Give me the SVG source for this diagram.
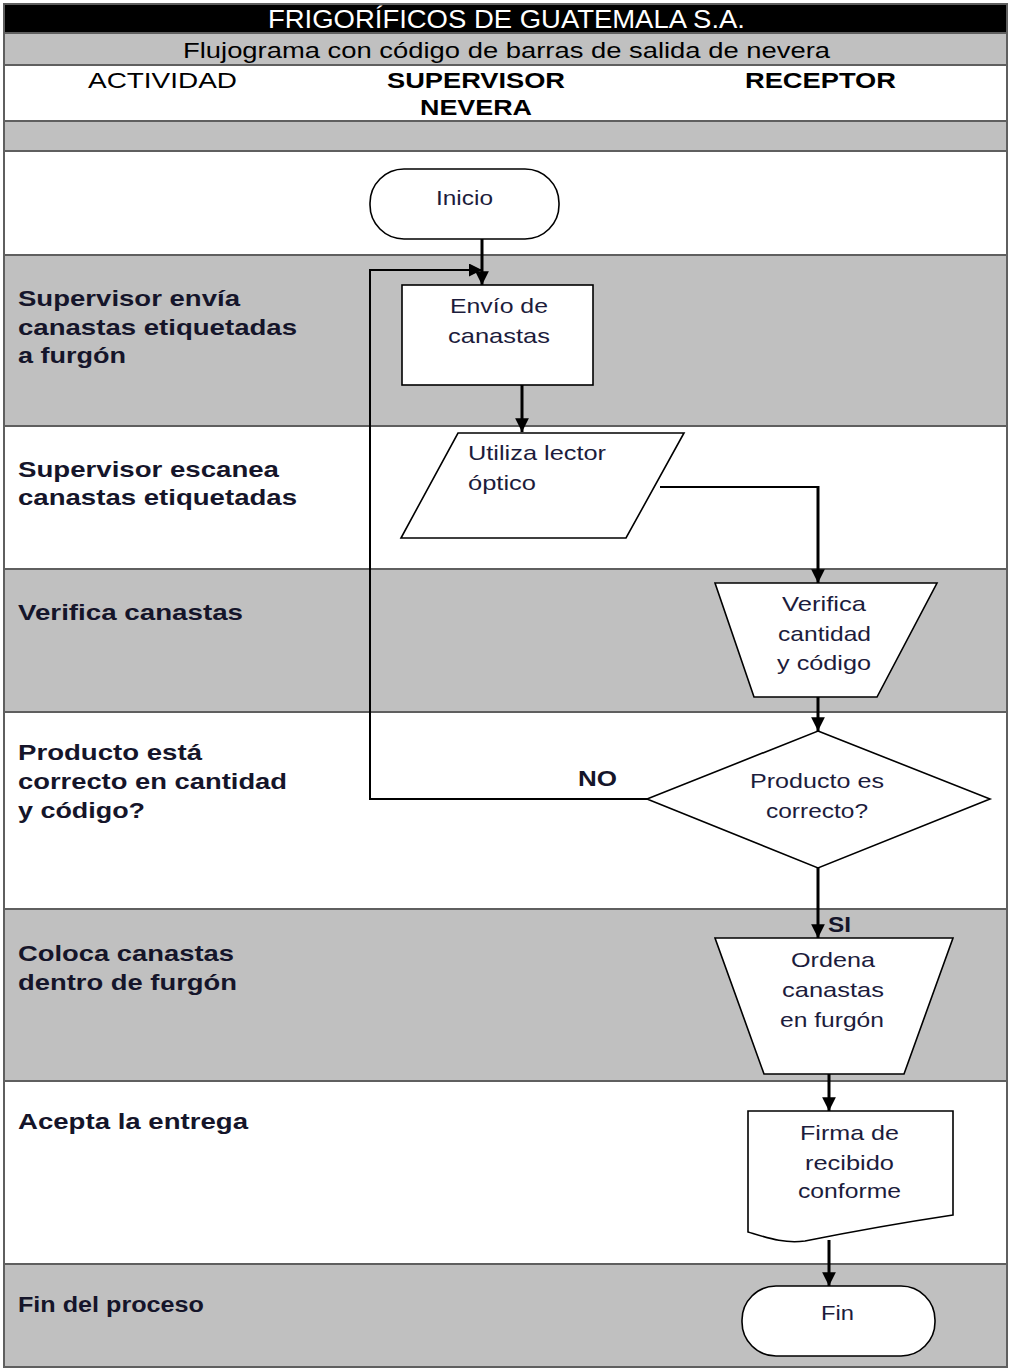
<svg xmlns="http://www.w3.org/2000/svg" width="1010" height="1370" viewBox="0 0 1010 1370">
  <style>
    .band-g { fill: #c0c0c0; }
    .band-w { fill: #ffffff; }
    .rule { stroke: #5f5f5f; stroke-width: 2; fill: none; }
    .shape { fill: #ffffff; stroke: #000000; stroke-width: 1.6; }
    .flow { stroke: #000000; stroke-width: 3; fill: none; }
    .thin { stroke: #000000; stroke-width: 2; fill: none; }
    .hdr { font-family: "Liberation Sans", Arial, sans-serif; font-size: 22px; fill: #000000; }
    .act { font-family: "Liberation Sans", Arial, sans-serif; font-size: 22px; font-weight: bold; fill: #15152a; }
    .lbl { font-family: "Liberation Sans", Arial, sans-serif; font-size: 21px; fill: #1c1c3c; }
    .yn { font-family: "Liberation Sans", Arial, sans-serif; font-size: 22px; font-weight: bold; fill: #15152a; }
  </style>
  <defs>
    <marker id="arrow" viewBox="0 0 10 10" refX="10" refY="5" markerWidth="4.6" markerHeight="4.6" markerUnits="strokeWidth" orient="auto">
      <path d="M0,0 L10,5 L0,10 Z" fill="#000000"/>
    </marker>
    <marker id="arrow-thin" viewBox="0 0 10 10" refX="10" refY="5" markerWidth="6.5" markerHeight="6.5" markerUnits="strokeWidth" orient="auto">
      <path d="M0,0 L10,5 L0,10 Z" fill="#000000"/>
    </marker>
  </defs>

  <!-- table bands -->
  <g id="table">
    <rect x="3" y="3" width="1005" height="30" fill="#000000"/>
    <rect class="band-g" x="3" y="33" width="1005" height="32"/>
    <rect class="band-w" x="3" y="65" width="1005" height="56"/>
    <rect class="band-g" x="3" y="121" width="1005" height="30"/>
    <rect class="band-w" x="3" y="151" width="1005" height="104"/>
    <rect class="band-g" x="3" y="255" width="1005" height="171"/>
    <rect class="band-w" x="3" y="426" width="1005" height="143"/>
    <rect class="band-g" x="3" y="569" width="1005" height="143"/>
    <rect class="band-w" x="3" y="712" width="1005" height="197"/>
    <rect class="band-g" x="3" y="909" width="1005" height="172"/>
    <rect class="band-w" x="3" y="1081" width="1005" height="183"/>
    <rect class="band-g" x="3" y="1264" width="1005" height="104"/>
    <path class="rule" d="M3,33 H1008 M3,65 H1008 M3,121 H1008 M3,151 H1008 M3,255 H1008 M3,426 H1008 M3,569 H1008 M3,712 H1008 M3,909 H1008 M3,1081 H1008 M3,1264 H1008"/>
    <rect x="4" y="4" width="1003" height="1363" fill="none" stroke="#5f5f5f" stroke-width="2"/>
  </g>

  <!-- headings -->
  <g id="headings">
    <text x="268" y="28" font-family="'Liberation Sans Narrow', 'Liberation Sans', Arial, sans-serif" font-size="25" fill="#ffffff" textLength="477" lengthAdjust="spacingAndGlyphs">FRIGORÍFICOS DE GUATEMALA S.A.</text>
    <text class="hdr" x="183" y="58" textLength="647" lengthAdjust="spacingAndGlyphs">Flujograma con código de barras de salida de nevera</text>
    <text class="hdr" x="88" y="88" textLength="149" lengthAdjust="spacingAndGlyphs">ACTIVIDAD</text>
    <text class="hdr" x="387" y="88" font-weight="bold" textLength="178" lengthAdjust="spacingAndGlyphs">SUPERVISOR</text>
    <text class="hdr" x="420" y="115" font-weight="bold" textLength="112" lengthAdjust="spacingAndGlyphs">NEVERA</text>
    <text class="hdr" x="745" y="88" font-weight="bold" textLength="151" lengthAdjust="spacingAndGlyphs">RECEPTOR</text>
  </g>

  <!-- activity descriptions -->
  <g id="activities">
    <text class="act" x="18" y="306" textLength="222" lengthAdjust="spacingAndGlyphs">Supervisor envía</text>
    <text class="act" x="18" y="335" textLength="279" lengthAdjust="spacingAndGlyphs">canastas etiquetadas</text>
    <text class="act" x="18" y="363" textLength="108" lengthAdjust="spacingAndGlyphs">a furgón</text>
    <text class="act" x="18" y="477" textLength="261" lengthAdjust="spacingAndGlyphs">Supervisor escanea</text>
    <text class="act" x="18" y="505" textLength="279" lengthAdjust="spacingAndGlyphs">canastas etiquetadas</text>
    <text class="act" x="18" y="620" textLength="225" lengthAdjust="spacingAndGlyphs">Verifica canastas</text>
    <text class="act" x="18" y="760" textLength="184" lengthAdjust="spacingAndGlyphs">Producto está</text>
    <text class="act" x="18" y="789" textLength="269" lengthAdjust="spacingAndGlyphs">correcto en cantidad</text>
    <text class="act" x="18" y="818" textLength="127" lengthAdjust="spacingAndGlyphs">y código?</text>
    <text class="act" x="18" y="961" textLength="216" lengthAdjust="spacingAndGlyphs">Coloca canastas</text>
    <text class="act" x="18" y="990" textLength="219" lengthAdjust="spacingAndGlyphs">dentro de furgón</text>
    <text class="act" x="18" y="1129" textLength="230" lengthAdjust="spacingAndGlyphs">Acepta la entrega</text>
    <text class="act" x="18" y="1312" font-size="20" textLength="186" lengthAdjust="spacingAndGlyphs">Fin del proceso</text>
  </g>

  <!-- connectors -->
  <g id="connectors">
    <path class="flow" d="M482,239 V285" marker-end="url(#arrow)"/>
    <path class="thin" d="M647,799 H370 V270 H482" marker-end="url(#arrow-thin)"/>
    <path class="flow" d="M522,385 V432" marker-end="url(#arrow)"/>
    <path class="thin" d="M660,487 H818" />
    <path class="flow" d="M818,486 V583" marker-end="url(#arrow)"/>
    <path class="flow" d="M818,697 V731" marker-end="url(#arrow)"/>
    <path class="flow" d="M818,868 V938" marker-end="url(#arrow)"/>
    <path class="flow" d="M829,1074 V1111" marker-end="url(#arrow)"/>
    <path class="flow" d="M829,1240 V1286" marker-end="url(#arrow)"/>
    <text class="yn" x="578" y="786" textLength="39" lengthAdjust="spacingAndGlyphs">NO</text>
    <text class="yn" x="828" y="932" textLength="23" lengthAdjust="spacingAndGlyphs">SI</text>
  </g>

  <!-- nodes -->
  <g id="inicio">
    <rect class="shape" x="370" y="169" width="189" height="70" rx="34" ry="34"/>
    <text class="lbl" x="436" y="205" textLength="57" lengthAdjust="spacingAndGlyphs">Inicio</text>
  </g>
  <g id="envio">
    <rect class="shape" x="402" y="285" width="191" height="100"/>
    <text class="lbl" x="450" y="313" textLength="98" lengthAdjust="spacingAndGlyphs">Envío de</text>
    <text class="lbl" x="448" y="343" textLength="102" lengthAdjust="spacingAndGlyphs">canastas</text>
  </g>
  <g id="lector">
    <polygon class="shape" points="458,433 684,433 626,538 401,538"/>
    <text class="lbl" x="468" y="460" textLength="138" lengthAdjust="spacingAndGlyphs">Utiliza lector</text>
    <text class="lbl" x="468" y="490" textLength="68" lengthAdjust="spacingAndGlyphs">óptico</text>
  </g>
  <g id="verifica">
    <polygon class="shape" points="715,583 937,583 877,697 754,697"/>
    <text class="lbl" x="782" y="611" textLength="84" lengthAdjust="spacingAndGlyphs">Verifica</text>
    <text class="lbl" x="778" y="641" textLength="93" lengthAdjust="spacingAndGlyphs">cantidad</text>
    <text class="lbl" x="777" y="670" textLength="94" lengthAdjust="spacingAndGlyphs">y código</text>
  </g>
  <g id="decision">
    <polygon class="shape" points="818,731 990,799 818,868 647,799"/>
    <text class="lbl" x="750" y="788" textLength="134" lengthAdjust="spacingAndGlyphs">Producto es</text>
    <text class="lbl" x="766" y="818" textLength="102" lengthAdjust="spacingAndGlyphs">correcto?</text>
  </g>
  <g id="ordena">
    <polygon class="shape" points="715,938 953,938 904,1074 764,1074"/>
    <text class="lbl" x="791" y="967" textLength="84" lengthAdjust="spacingAndGlyphs">Ordena</text>
    <text class="lbl" x="782" y="997" textLength="102" lengthAdjust="spacingAndGlyphs">canastas</text>
    <text class="lbl" x="780" y="1027" textLength="104" lengthAdjust="spacingAndGlyphs">en furgón</text>
  </g>
  <g id="firma">
    <path class="shape" d="M748,1111 H953 V1215 C900,1223 850,1232 805,1241 C785,1244 768,1238 748,1232 Z"/>
    <text class="lbl" x="800" y="1140" textLength="99" lengthAdjust="spacingAndGlyphs">Firma de</text>
    <text class="lbl" x="805" y="1170" textLength="89" lengthAdjust="spacingAndGlyphs">recibido</text>
    <text class="lbl" x="798" y="1198" textLength="103" lengthAdjust="spacingAndGlyphs">conforme</text>
  </g>
  <g id="fin">
    <rect class="shape" x="742" y="1286" width="193" height="70" rx="34" ry="34"/>
    <text class="lbl" x="821" y="1320" textLength="33" lengthAdjust="spacingAndGlyphs">Fin</text>
  </g>
</svg>
